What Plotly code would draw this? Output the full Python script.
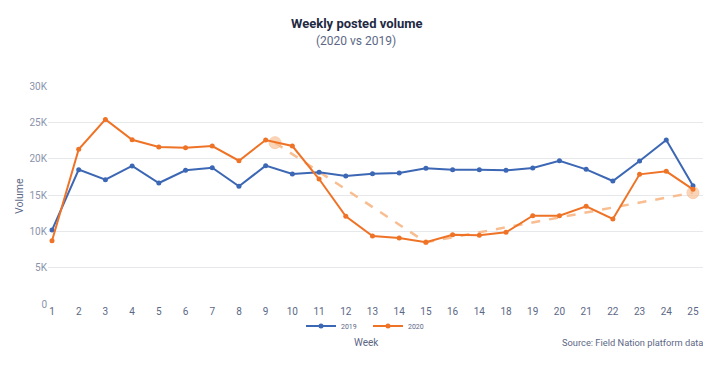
import plotly.graph_objects as go

weeks = list(range(1, 26))
week_labels = ["1", "2", "3", "4", "5", "6", "7", "8", "9", "10", "11", "12", "13",
               "14", "15", "16", "14", "18", "19", "20", "21", "22", "23", "24", "25"]
vol_2019 = [10180, 18490, 17100, 19000, 16650, 18400, 18760, 16190, 19040, 17890,
            18120, 17610, 17940, 18030, 18670, 18490, 18490, 18390, 18720, 19720,
            18530, 16930, 19680, 22570, 16280]
vol_2020 = [8700, 21300, 25400, 22600, 21600, 21500, 21740, 19720, 22570, 21740,
            17200, 12060, 9360, 9080, 8490, 9540, 9450, 9860, 12160, 12160,
            13440, 11700, 17840, 18260, 15780]
trend_x = [9.35, 15, 25]
trend_y = [22200, 8500, 15320]
y_ticks = [0, 5000, 10000, 15000, 20000, 25000, 30000]
y_tick_labels = ["0", "5K", "10K", "15K", "20K", "25K", "30K"]

FONT = "Roboto, Liberation Sans, sans-serif"
BLUE = "#3c67b4"
ORANGE = "#ef7326"
TREND = "rgba(247,182,132,0.9)"
LABEL = "#5c6785"

OFF = 8  # page body margin
W, Hh = 703, 367
ML, MR, MT, MB = 40, 6, 78, 71
PW = W - ML - MR
PH = Hh - MT - MB


def px_x(x):
    return (x - OFF - ML) / PW


def px_y(y):
    return (Hh - MB - (y - OFF)) / PH


fig = go.Figure()
fig.add_trace(go.Scatter(x=trend_x, y=trend_y, mode="lines+markers",
                         line=dict(color=TREND, width=2.5, dash="dash"),
                         marker=dict(size=[12, 5, 12], color="#f8c29a"),
                         showlegend=False, hoverinfo="skip"))
fig.add_trace(go.Scatter(x=weeks, y=vol_2019, mode="lines+markers", name="2019",
                         line=dict(color=BLUE, width=2), marker=dict(size=5, color=BLUE)))
fig.add_trace(go.Scatter(x=weeks, y=vol_2020, mode="lines+markers", name="2020",
                         line=dict(color=ORANGE, width=2), marker=dict(size=5, color=ORANGE)))

fig.update_layout(
    width=W, height=Hh,
    margin=dict(l=ML, r=MR, t=MT, b=MB, autoexpand=False),
    paper_bgcolor="white", plot_bgcolor="white",
    font=dict(family=FONT, color="#8a93ab", size=10),
    showlegend=True,
    legend=dict(orientation="h", x=px_x(368), xanchor="center", y=px_y(326), yanchor="middle",
                font=dict(size=7, color=LABEL), itemwidth=30,
                entrywidth=22, entrywidthmode="pixels",
                tracegroupgap=0, bgcolor="rgba(0,0,0,0)"),
    xaxis=dict(range=[0.85, 25.45], tickmode="array", tickvals=weeks, ticktext=week_labels,
               showgrid=False, zeroline=False, showline=False, ticks="", automargin=False,
               tickfont=dict(size=10, color=LABEL)),
    yaxis=dict(range=[0, 30000], tickmode="array", tickvals=y_ticks, ticktext=y_tick_labels,
               showgrid=True, gridcolor="#e6e8ec", gridwidth=1, zeroline=False,
               showline=False, ticks="", automargin=False,
               tickfont=dict(size=10, color="#8a93ab")),
    annotations=[
        dict(text="<b>Weekly posted volume</b>", xref="paper", x=px_x(357), yref="paper",
             y=px_y(23), yanchor="middle", showarrow=False,
             font=dict(size=13, color="#1f2a44")),
        dict(text="(2020 vs 2019)", xref="paper", x=px_x(356), yref="paper", y=px_y(41),
             yanchor="middle", showarrow=False, font=dict(size=12, color=LABEL)),
        dict(text="Volume", xref="paper", x=px_x(19), yref="paper", y=px_y(196),
             textangle=-90, xanchor="center", yanchor="middle", showarrow=False,
             font=dict(size=10.5, color=LABEL)),
        dict(text="Week", xref="paper", x=px_x(366), yref="paper", y=px_y(342),
             yanchor="middle", showarrow=False, font=dict(size=10, color=LABEL)),
        dict(text="Source: Field Nation platform data", xref="paper", x=px_x(705),
             xanchor="right", yref="paper", y=px_y(342), yanchor="middle", showarrow=False,
             font=dict(size=9.3, color=LABEL)),
    ],
)

fig.write_html("out.html")
